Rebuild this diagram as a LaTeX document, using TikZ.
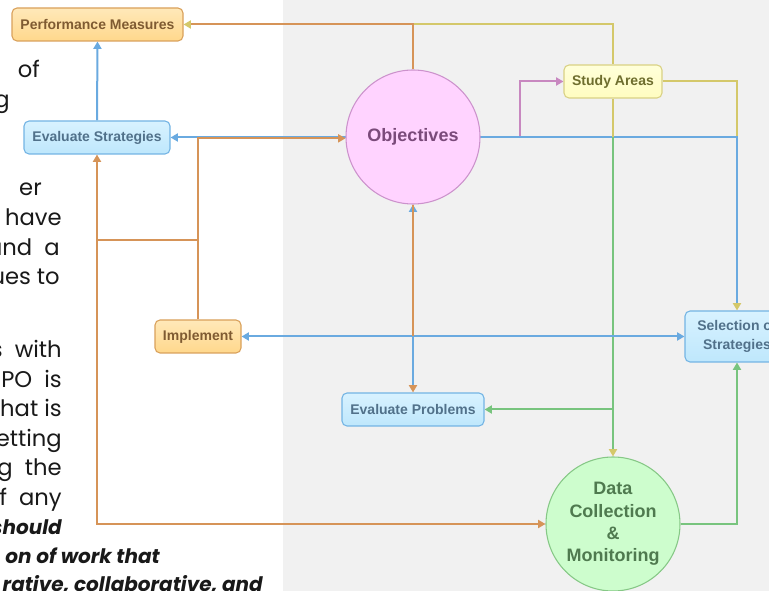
\documentclass[tikz,border=0pt]{standalone}
\usepackage{fontspec}
\setmainfont{Liberation Sans}
\newfontfamily\pagefont{Poppins}
\usetikzlibrary{arrows.meta}
\pgfdeclarelayer{bg}
\pgfdeclarelayer{wires}
\pgfsetlayers{bg,wires,main}

\definecolor{oLine}{RGB}{214,148,88}
\definecolor{bLine}{RGB}{106,170,224}
\definecolor{yLine}{RGB}{212,200,106}
\definecolor{gLine}{RGB}{120,196,126}
\definecolor{pLine}{RGB}{200,136,192}
\definecolor{paneGrey}{RGB}{241,241,241}

\tikzset{
  >={Triangle[length=5.5pt,width=6pt]},
  wire/.style={line width=1.5pt},
  oline/.style={wire, oLine},
  bline/.style={wire, bLine},
  yline/.style={wire, yLine},
  gline/.style={wire, gLine},
  pline/.style={wire, pLine},
  box/.style={rounded corners=3.75pt, line width=0.8pt, minimum height=24.75pt, inner sep=2pt,
    font=\bfseries\fontsize{10.5}{14.25}\selectfont},
  orangebox/.style={box, draw={rgb,255:red,217;green,161;blue,91}, top color={rgb,255:red,255;green,232;blue,185},
    bottom color={rgb,255:red,255;green,216;blue,140}, text={rgb,255:red,127;green,91;blue,50}},
  bluebox/.style={box, draw={rgb,255:red,115;green,180;blue,228}, top color={rgb,255:red,216;green,242;blue,255},
    bottom color={rgb,255:red,190;green,231;blue,252}, text={rgb,255:red,81;green,113;blue,138}},
  yellowbox/.style={box, draw={rgb,255:red,217;green,209;blue,132}, top color={rgb,255:red,255;green,255;blue,218},
    bottom color={rgb,255:red,255;green,253;blue,192}, text={rgb,255:red,110;green,110;blue,46}},
  bigcirc/.style={circle, minimum size=100.5pt, inner sep=0pt, line width=0.8pt, align=center,
    font=\bfseries\fontsize{13.5}{16.7}\selectfont},
  pinkcirc/.style={bigcirc, draw={rgb,255:red,204;green,146;blue,204}, fill={rgb,255:red,255;green,211;blue,255},
    text={rgb,255:red,122;green,74;blue,122}},
  greencirc/.style={bigcirc, draw={rgb,255:red,134;green,200;blue,134}, fill={rgb,255:red,205;green,253;blue,205},
    text={rgb,255:red,79;green,122;blue,79}},
  pagetext/.style={anchor=base east, inner sep=0pt, text={rgb,255:red,25;green,25;blue,25},
    font=\pagefont\fontsize{17}{20}\selectfont},
  pagebold/.style={pagetext, font=\pagefont\bfseries\itshape\fontsize{15}{20}\selectfont}
}

\begin{document}
\begin{tikzpicture}[x=0.75pt,y=0.75pt,yscale=-1,xscale=1]
\useasboundingbox (0,0) rectangle (769,591);
\clip (0,0) rectangle (769,591);
\begin{pgfonlayer}{bg}
\fill[white] (0,0) rectangle (283,591);
\fill[paneGrey] (283,0) rectangle (769,591);
\end{pgfonlayer}

\foreach \x/\y/\s [count=\i] in {40/78/of, 10/107.5/g, 42/196/er, 62/226/have, 60/255.5/{and\ \ a}, 60/285/{ues to},
  62/358/{s\ \ with}, 62/387.5/{PO\ \ is}, 62/417/{that is}, 62/446.5/setting, 62/476/{g\ \ the}, 62/505.5/{f\ \ any}}
  \node[pagetext] (line\i) at (\x,\y) {\s};
\node[pagebold] (line13) at (62,535) {should};
\node[pagebold] (line14) at (160,563.5) {on of work that};
\node[pagebold] (line15) at (263,592) {rative, collaborative, and};

\node[orangebox, minimum width=128.25pt] (perf) at (97.5,24.5) {Performance Measures};
\node[bluebox, minimum width=109.5pt] (evalstrat) at (97,137.5) {Evaluate Strategies};
\node[orangebox, minimum width=64.5pt] (impl) at (198,336.5) {Implement};
\node[bluebox, minimum width=106.5pt] (evalprob) at (413,409.5) {Evaluate Problems};
\node[yellowbox, minimum width=73.5pt] (study) at (613,81.5) {Study Areas};
\node[bluebox, minimum width=78pt, minimum height=38.25pt, align=center] (select) at (737,336.5) {Selection of\\Strategies};
\node[pinkcirc] (obj) at (413,137) {Objectives};
\node[greencirc] (data) at (613,524) {Data\\Collection\\\&\\Monitoring};

\begin{pgfonlayer}{wires}
\draw[yline, ->] (study.north) |- (perf.east);
\draw[oline, shorten >=5.5pt] (obj.north) |- (perf.east);
\draw[bline, ->] (evalstrat.north) -- (perf.south);
\draw[pline, ->] (obj.east) -- ++(39,0) |- (study.west);
\draw[yline, ->] (study.east) -| (select.north);
\draw[bline, ->, shorten <=5.5pt] (select.north) |- (evalstrat.east);
\draw[oline, ->] (impl.north) |- ([yshift=1pt]obj.west);
\coordinate (tie) at (impl.north |- 0,240);
\draw[oline, ->] (tie) -| (evalstrat.south);
\draw[oline, ->] (tie) -| (evalstrat.south |- data.west) -- (data.west);
\draw[yline, ->] (study.south) -- (data.north);
\coordinate (gtop) at (study.south |- evalstrat.east);
\draw[gline, shorten >=5.5pt] (gtop) -- (data.north);
\draw[gline, ->] (data.north |- evalprob.east) -- (evalprob.east);
\draw[gline, ->] (data.east) -| (select.south);
\draw[bline, <->] (impl.east) -- (select.west);
\coordinate (cross) at (obj.south |- impl.east);
\draw[bline, ->] (cross) -- (obj.south);
\draw[oline, ->] (obj.south) -- (evalprob.north);
\draw[bline, shorten >=5.5pt] (cross) -- (evalprob.north);
\end{pgfonlayer}
\end{tikzpicture}
\end{document}
